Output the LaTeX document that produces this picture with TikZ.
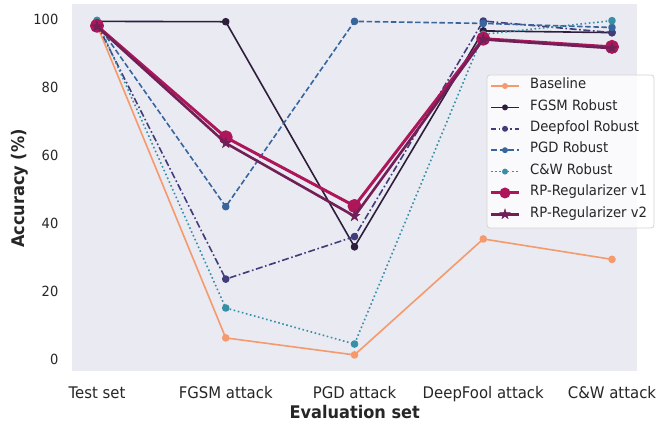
\documentclass[tikz,border=0pt]{standalone}
\usepackage{fontspec}
\setmainfont{DejaVu Sans}[FakeStretch=0.93]
\usetikzlibrary{shapes.geometric}
\definecolor{bgc}{HTML}{EAEAF2}
\definecolor{txt}{HTML}{262626}
\definecolor{lgedge}{HTML}{D4D4D4}
\definecolor{cbase}{HTML}{F59A6D}
\definecolor{cfgsm}{HTML}{2E1E3C}
\definecolor{cdeep}{HTML}{413D7B}
\definecolor{cpgd}{HTML}{37659E}
\definecolor{ccw}{HTML}{348FA7}
\definecolor{crpa}{HTML}{AD1759}
\definecolor{crpb}{HTML}{701F57}
\tikzset{
  ser/.style={line join=round, mark=*, mark options={solid}},
  sbase/.style={ser, cbase, line width=1.6pt, mark size=3pt},
  sfgsm/.style={ser, cfgsm, line width=1.6pt, mark size=3pt},
  sdeep/.style={ser, cdeep, line width=1.6pt, mark size=3pt, dash pattern=on 7pt off 2.6pt on 1.6pt off 2.6pt},
  spgd/.style={ser, cpgd, line width=1.6pt, mark size=3pt, dash pattern=on 5.5pt off 2.6pt},
  scw/.style={ser, ccw, line width=1.6pt, mark size=3pt, dash pattern=on 1.6pt off 2.6pt},
  srpa/.style={ser, crpa, line width=3pt, mark size=5.5pt},
  srpb/.style={line join=round, crpb, line width=2.6pt},
  starmk/.style={star, star points=5, star point ratio=2.6, fill=crpb, draw=crpb, line width=0.5pt, inner sep=0pt, minimum size=11pt},
  starlg/.style={starmk, minimum size=10.5pt},
  ytick/.style={anchor=east, inner sep=0pt, font=\fontsize{14}{16}\selectfont\color{txt}},
  xtick/.style={anchor=base, inner sep=0pt, font=\fontsize{16}{18}\selectfont\color{txt}},
  axlabel/.style={inner sep=0pt, font=\fontsize{17.4}{20}\selectfont\bfseries\color{txt}},
  lgtext/.style={anchor=mid west, inner sep=0pt, font=\fontsize{14.2}{17}\selectfont\color{txt}}
}
\begin{document}
\begin{tikzpicture}[x=1pt,y=1pt]
\useasboundingbox (0,0) rectangle (659,423);
\fill[bgc] (72,52) rectangle (637,419);
% y ticks
\node[ytick] (yt0) at (58.5,64) {0};
\node[ytick] (yt20) at (58.5,132) {20};
\node[ytick] (yt40) at (58.5,200) {40};
\node[ytick] (yt60) at (58.5,268) {60};
\node[ytick] (yt80) at (58.5,336) {80};
\node[ytick] (yt100) at (58.5,404) {100};
% data
\begin{scope}[xshift=97pt, yshift=64pt, x=128.75pt, y=3.4pt]
  \draw[sbase] plot coordinates {(0,98.2) (1,6.2) (2,1.2) (3,35.3) (4,29.3)};
  \draw[sfgsm] plot coordinates {(0,99.3) (1,99.2) (2,33) (3,96.5) (4,96)};
  \draw[sdeep] plot coordinates {(0,98.5) (1,23.5) (2,36) (3,99.4) (4,96)};
  \draw[spgd] plot coordinates {(0,98.7) (1,44.8) (2,99.3) (3,98.7) (4,97.5)};
  \draw[scw] plot coordinates {(0,99.6) (1,15) (2,4.4) (3,95.5) (4,99.5)};
  \draw[srpa] plot coordinates {(0,98) (1,65.2) (2,45) (3,94.2) (4,91.8)};
  \coordinate (b0) at (0,97.8);
  \coordinate (b1) at (1,63.5);
  \coordinate (b2) at (2,42);
  \coordinate (b3) at (3,94);
  \coordinate (b4) at (4,91.4);
  \draw[srpb] (b0) -- (b1) -- (b2) -- (b3) -- (b4);
  \foreach \i in {0,...,4} \node[starmk] (st\i) at (b\i) {};
  % x ticks
  \node[xtick] (xt0) at (0,-11.6) {Test set};
  \node[xtick] (xt1) at (1,-11.6) {FGSM attack};
  \node[xtick] (xt2) at (2,-11.6) {PGD attack};
  \node[xtick] (xt3) at (3,-11.6) {DeepFool attack};
  \node[xtick] (xt4) at (4,-11.6) {C\&W attack};
\end{scope}
% axis labels
\node[axlabel, anchor=base] (xl) at (354.7,4) {Evaluation set};
\node[axlabel, rotate=90, anchor=center] (yl) at (19.5,234.5) {Accuracy (\%)};
% legend
\draw[rounded corners=3pt, fill=white, fill opacity=0.8, draw=lgedge, line width=0.8pt] (487,195) rectangle (654,348);
\draw[sbase, mark=none] (491,337) -- (519,337); \fill[cbase] (505,337) circle[radius=3pt];
\node[lgtext] (lg1) at (530,337) {Baseline};
\draw[sfgsm, mark=none] (491,315.6) -- (519,315.6); \fill[cfgsm] (505,315.6) circle[radius=3pt];
\node[lgtext] (lg2) at (530,315.6) {FGSM Robust};
\draw[sdeep, mark=none, dash pattern=on 5pt off 2.6pt on 1.6pt off 2.6pt] (491,294.2) -- (519,294.2); \fill[cdeep] (505,294.2) circle[radius=3pt];
\node[lgtext] (lg3) at (530,294.2) {Deepfool Robust};
\draw[spgd, mark=none, dash pattern=on 5.5pt off 3pt] (491,272.8) -- (519,272.8); \fill[cpgd] (505,272.8) circle[radius=3pt];
\node[lgtext] (lg4) at (530,272.8) {PGD Robust};
\draw[scw, mark=none] (491,251.4) -- (519,251.4); \fill[ccw] (505,251.4) circle[radius=3pt];
\node[lgtext] (lg5) at (530,251.4) {C\&W Robust};
\draw[srpa, mark=none] (491,230) -- (519,230); \fill[crpa] (505,230) circle[radius=5.5pt];
\node[lgtext] (lg6) at (530,230) {RP-Regularizer v1};
\draw[srpb] (491,208.7) -- (519,208.7); \node[starlg] (lgs) at (505,208.7) {};
\node[lgtext] (lg7) at (530,208.7) {RP-Regularizer v2};
\end{tikzpicture}
\end{document}
